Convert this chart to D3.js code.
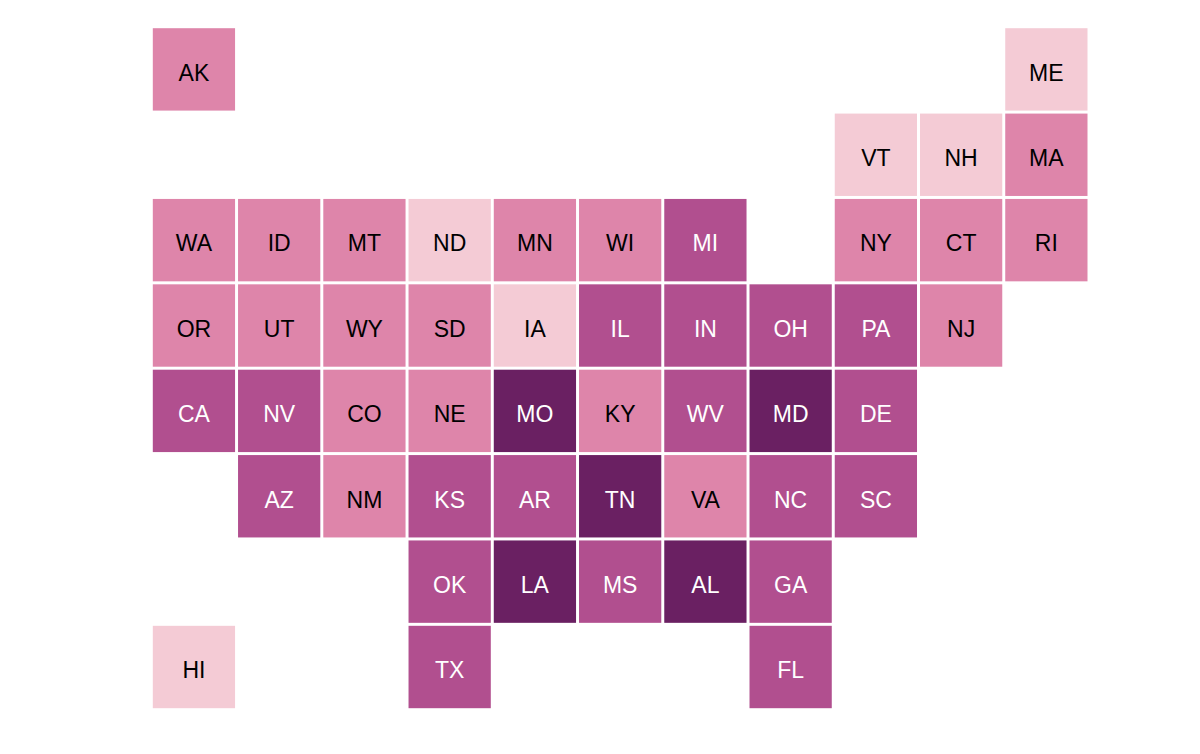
<!DOCTYPE html>
<html>
<head>
<meta charset="utf-8">
<script src="https://cdn.jsdelivr.net/npm/d3@7"></script>
<style>
  html, body { margin: 0; padding: 0; background: #fff; }
  text { font-family: "Liberation Sans", Arial, sans-serif; }
</style>
</head>
<body>
<div id="graf"></div>
<script>
const states = ["AK","ME","VT","NH","MA","WA","ID","MT","ND","MN","WI","MI","NY","CT","RI",
  "OR","UT","WY","SD","IA","IL","IN","OH","PA","NJ",
  "CA","NV","CO","NE","MO","KY","WV","MD","DE",
  "AZ","NM","KS","AR","TN","VA","NC","SC",
  "OK","LA","MS","AL","GA","HI","TX","FL"];
const cols = [0,10,8,9,10,0,1,2,3,4,5,6,8,9,10,
  0,1,2,3,4,5,6,7,8,9,
  0,1,2,3,4,5,6,7,8,
  1,2,3,4,5,6,7,8,
  3,4,5,6,7,0,3,7];
const rows = [0,0,1,1,1,2,2,2,2,2,2,2,2,2,2,
  3,3,3,3,3,3,3,3,3,3,
  4,4,4,4,4,4,4,4,4,
  5,5,5,5,5,5,5,5,
  6,6,6,6,6,7,7,7];
const levels = [1,0,0,0,1,1,1,1,0,1,1,2,1,1,1,
  1,1,1,1,0,2,2,2,2,1,
  2,2,1,1,3,1,2,3,2,
  2,1,2,2,3,1,2,2,
  2,3,2,3,2,0,2,2];
const colors = ["#f4cbd5","#de85aa","#b14f8f","#6a2062"];
const textColors = ["#000","#000","#fff","#fff"];

const ancho_total = 1200, alto_total = 754;
const x = d3.scaleBand().domain(d3.range(11)).range([152.8, 1087.5]).paddingInner(0.035).paddingOuter(0);
const y = d3.scaleBand().domain(d3.range(8)).range([28.2, 708.2]).paddingInner(0.035).paddingOuter(0);

const svg = d3.select("#graf").append("svg")
  .attr("width", ancho_total).attr("height", alto_total).style("display", "block");

const cell = svg.selectAll("g").data(states).enter().append("g")
  .attr("transform", (d, i) => `translate(${x(cols[i])},${y(rows[i])})`);

cell.append("rect")
  .attr("width", x.bandwidth())
  .attr("height", y.bandwidth())
  .attr("fill", (d, i) => colors[levels[i]]);

cell.append("text")
  .attr("x", x.bandwidth() / 2)
  .attr("y", y.bandwidth() / 2)
  .attr("dy", "0.49em")
  .attr("text-anchor", "middle")
  .style("font-size", "23px")
  .attr("fill", (d, i) => textColors[levels[i]])
  .text(d => d);
</script>
</body>
</html>
